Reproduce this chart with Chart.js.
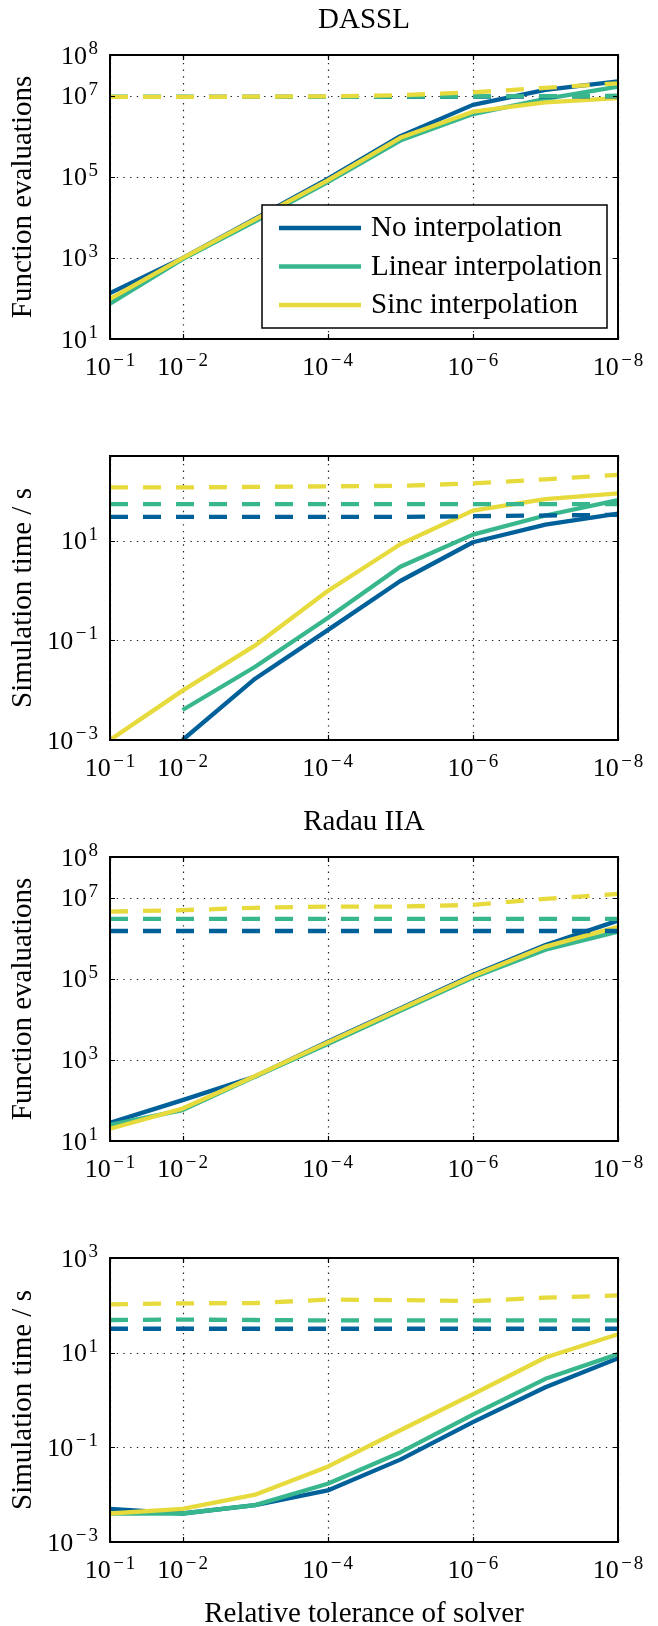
<!DOCTYPE html>
<html>
<head>
<meta charset="utf-8">
<script src="https://cdn.jsdelivr.net/npm/chart.js@4.4.1/dist/chart.umd.min.js"></script>
<style>
  body { margin: 0; background: #fff; }
  canvas { position: absolute; left: 0; }
</style>
</head>
<body>
<canvas id="c0" width="658" height="401" style="top:0"></canvas>
<canvas id="c1" width="658" height="401" style="top:401px"></canvas>
<canvas id="c2" width="658" height="401" style="top:802px"></canvas>
<canvas id="c3" width="658" height="423" style="top:1203px"></canvas>
<script>
// relative tolerance of solver (x axis, shown reversed)
const tolerances = [1e-1, 1e-2, 1e-3, 1e-4, 1e-5, 1e-6, 1e-7, 1e-8];
const xTickExps = [-1, -2, -4, -6, -8];

const seriesNames = ['No interpolation', 'Linear interpolation', 'Sinc interpolation'];
const seriesColors = ['#00609a', '#38b78e', '#e6da3c'];

// DASSL - function evaluations
const dasslEvalsNone   = [135, 980, 9300, 89000, 1.0e6, 5.9e6, 1.38e7, 2.24e7];
const dasslEvalsLinear = [74, 930, 7900, 74000, 7.8e5, 3.5e6, 8.3e6, 1.66e7];
const dasslEvalsSinc   = [98, 980, 8900, 81000, 9.1e5, 4.0e6, 6.8e6, 8.7e6];
const dasslEvalsNoneDash   = [9.3e6, 9.3e6, 9.3e6, 9.3e6, 9.3e6, 9.4e6, 9.5e6, 9.6e6];
const dasslEvalsLinearDash = [9.3e6, 9.3e6, 9.3e6, 9.3e6, 9.4e6, 9.5e6, 9.7e6, 9.9e6];
const dasslEvalsSincDash   = [9.3e6, 9.3e6, 9.4e6, 9.6e6, 1.02e7, 1.2e7, 1.55e7, 2.0e7];

// DASSL - simulation time / s
const dasslTimeNone   = [null, 0.001, 0.017, 0.16, 1.55, 9.3, 21, 35];
const dasslTimeLinear = [null, 0.004, 0.0295, 0.28, 3.0, 13.2, 32, 65];
const dasslTimeSinc   = [0.001, 0.0098, 0.079, 0.98, 8.5, 40, 68, 89];
const dasslTimeNoneDash   = [30, 30, 30, 30, 30, 31, 32, 33];
const dasslTimeLinearDash = [54, 54, 54, 54, 54, 54, 54, 54];
const dasslTimeSincDash   = [117, 117, 120, 123, 126, 141, 170, 209];

// Radau IIA - function evaluations
const radauEvalsNone   = [28, 102, 390, 2800, 18600, 1.23e5, 6.8e5, 2.7e6];
const radauEvalsLinear = [25, 58, 390, 2450, 16200, 1.07e5, 5.2e5, 1.45e6];
const radauEvalsSinc   = [20, 63, 400, 2700, 17800, 1.17e5, 6.2e5, 1.9e6];
const radauEvalsNoneDash   = [1.5e6, 1.5e6, 1.5e6, 1.5e6, 1.5e6, 1.5e6, 1.5e6, 1.5e6];
const radauEvalsLinearDash = [3.0e6, 3.0e6, 3.0e6, 3.0e6, 3.0e6, 3.0e6, 3.0e6, 3.0e6];
const radauEvalsSincDash   = [4.5e6, 4.9e6, 5.6e6, 6.0e6, 6.0e6, 6.6e6, 9.3e6, 1.23e7];

// Radau IIA - simulation time / s
const radauTimeNone   = [0.005, 0.004, 0.006, 0.0123, 0.055, 0.34, 1.86, 7.6];
const radauTimeLinear = [0.004, 0.004, 0.006, 0.017, 0.078, 0.49, 2.8, 9.3];
const radauTimeSinc   = [0.004, 0.005, 0.010, 0.039, 0.23, 1.32, 7.9, 24.5];
const radauTimeNoneDash   = [32, 32, 32, 32, 32, 32, 32, 32];
const radauTimeLinearDash = [49, 50, 49, 48, 48, 48, 48, 48];
const radauTimeSincDash   = [105, 110, 112, 132, 129, 123, 145, 162];

const panels = [
    { id: 'c0', title: 'DASSL', ylabel: 'Function evaluations', yMin: 1e1, yMax: 1e8, yTickExps: [1, 3, 5, 7, 8],
      solid: [dasslEvalsNone, dasslEvalsLinear, dasslEvalsSinc],
      dashed: [dasslEvalsNoneDash, dasslEvalsLinearDash, dasslEvalsSincDash], legend: true },
    { id: 'c1', ylabel: 'Simulation time / s', yMin: 1e-3, yMax: 500, yTickExps: [-3, -1, 1],
      solid: [dasslTimeNone, dasslTimeLinear, dasslTimeSinc],
      dashed: [dasslTimeNoneDash, dasslTimeLinearDash, dasslTimeSincDash] },
    { id: 'c2', title: 'Radau IIA', ylabel: 'Function evaluations', yMin: 1e1, yMax: 1e8, yTickExps: [1, 3, 5, 7, 8],
      solid: [radauEvalsNone, radauEvalsLinear, radauEvalsSinc],
      dashed: [radauEvalsNoneDash, radauEvalsLinearDash, radauEvalsSincDash] },
    { id: 'c3', ylabel: 'Simulation time / s', yMin: 1e-3, yMax: 1e3, yTickExps: [-3, -1, 1, 3],
      solid: [radauTimeNone, radauTimeLinear, radauTimeSinc],
      dashed: [radauTimeNoneDash, radauTimeLinearDash, radauTimeSincDash], xlabel: 'Relative tolerance of solver' },
];

const FONT = '"Liberation Serif", "Times New Roman", serif';
const WORD_PX = 29, BASE_PX = 26, SUP_PX = 19;

// "10" with a raised exponent; minus gets a bit of extra room like TeX's math minus
function drawPow(ctx, exp, x, baseY, align) {
    const neg = exp < 0, digit = String(Math.abs(exp));
    ctx.font = `${BASE_PX}px ${FONT}`;
    const wb = ctx.measureText('10').width;
    ctx.font = `${SUP_PX}px ${FONT}`;
    const wm = neg ? ctx.measureText('\u2212').width + 3 : 0;
    const wd = ctx.measureText(digit).width;
    const w = wb + 1.5 + wm + wd;
    const x0 = align === 'center' ? x - w / 2 : x - w;
    ctx.textAlign = 'left';
    ctx.textBaseline = 'alphabetic';
    ctx.font = `${BASE_PX}px ${FONT}`;
    ctx.fillText('10', x0, baseY);
    ctx.font = `${SUP_PX}px ${FONT}`;
    if (neg) ctx.fillText('\u2212', x0 + wb + 2.5, baseY - 9.5);
    ctx.fillText(digit, x0 + wb + 1.5 + wm, baseY - 9.5);
}

function makeDecor(p) {
    return {
        id: 'decor_' + p.id,
        beforeDatasetsDraw(chart) {
            const { ctx, chartArea: a, scales: { x, y } } = chart;
            ctx.save();
            ctx.strokeStyle = '#222';
            ctx.lineWidth = 1.2;
            ctx.setLineDash([1.4, 5.3]);
            xTickExps.forEach(e => {
                const px = Math.round(x.getPixelForValue(Math.pow(10, e))) + 0.5;
                ctx.beginPath(); ctx.moveTo(px, a.bottom); ctx.lineTo(px, a.top); ctx.stroke();
            });
            p.yTickExps.forEach(e => {
                const py = Math.round(y.getPixelForValue(Math.pow(10, e))) + 0.5;
                ctx.beginPath(); ctx.moveTo(a.left, py); ctx.lineTo(a.right, py); ctx.stroke();
            });
            ctx.restore();
        },
        afterDatasetsDraw(chart) {
            const { ctx, chartArea: a, scales: { x, y } } = chart;
            ctx.save();
            ctx.fillStyle = '#000';
            ctx.strokeStyle = '#000';
            // tick marks
            ctx.lineWidth = 1.2;
            xTickExps.forEach(e => {
                const px = Math.round(x.getPixelForValue(Math.pow(10, e))) + 0.5;
                ctx.beginPath();
                ctx.moveTo(px, a.bottom); ctx.lineTo(px, a.bottom - 5);
                ctx.moveTo(px, a.top); ctx.lineTo(px, a.top + 5);
                ctx.stroke();
            });
            p.yTickExps.forEach(e => {
                const py = Math.round(y.getPixelForValue(Math.pow(10, e))) + 0.5;
                ctx.beginPath();
                ctx.moveTo(a.left, py); ctx.lineTo(a.left + 5, py);
                ctx.moveTo(a.right, py); ctx.lineTo(a.right - 5, py);
                ctx.stroke();
            });
            // box
            ctx.lineWidth = 2;
            ctx.strokeRect(a.left, a.top, a.right - a.left, a.bottom - a.top);

            // tick labels
            xTickExps.forEach(e => drawPow(ctx, e, x.getPixelForValue(Math.pow(10, e)), a.bottom + 36, 'center'));
            p.yTickExps.forEach(e => drawPow(ctx, e, a.left - 12, y.getPixelForValue(Math.pow(10, e)) + 8.5, 'right'));

            // titles and axis labels
            ctx.font = `${WORD_PX}px ${FONT}`;
            ctx.textBaseline = 'alphabetic';
            ctx.textAlign = 'center';
            const cx = (a.left + a.right) / 2;
            if (p.title) ctx.fillText(p.title, cx, a.top - 27);
            if (p.xlabel) ctx.fillText(p.xlabel, cx, a.bottom + 80);
            ctx.save();
            ctx.translate(31, (a.top + a.bottom) / 2);
            ctx.rotate(-Math.PI / 2);
            ctx.fillText(p.ylabel, 0, 0);
            ctx.restore();

            // legend
            if (p.legend) {
                const lx = 262, ly = 205, lw = 345, lh = 123;
                ctx.fillStyle = '#fff';
                ctx.fillRect(lx, ly, lw, lh);
                ctx.lineWidth = 1.5;
                ctx.strokeStyle = '#000';
                ctx.strokeRect(lx, ly, lw, lh);
                seriesNames.forEach((name, i) => {
                    const ry = 228 + i * 38.5;
                    ctx.strokeStyle = seriesColors[i];
                    ctx.lineWidth = 4.5;
                    ctx.beginPath(); ctx.moveTo(279, ry); ctx.lineTo(361, ry); ctx.stroke();
                    ctx.fillStyle = '#000';
                    ctx.textAlign = 'left';
                    ctx.fillText(name, 371, ry + 8);
                });
            }
            ctx.restore();
        }
    };
}

panels.forEach(p => {
    const canvas = document.getElementById(p.id);
    const datasets = [];
    p.solid.forEach((vals, i) => datasets.push({
        label: seriesNames[i],
        data: tolerances.map((t, k) => ({ x: t, y: vals[k] })),
        borderColor: seriesColors[i], borderWidth: 4.3, order: 6 - i,
    }));
    p.dashed.forEach((vals, i) => datasets.push({
        label: seriesNames[i] + ' (dashed)',
        data: tolerances.map((t, k) => ({ x: t, y: vals[k] })),
        borderColor: seriesColors[i], borderWidth: 4.3, borderDash: [18, 15], order: 3 - i,
    }));
    new Chart(canvas, {
        type: 'line',
        data: { datasets },
        options: {
            responsive: false,
            animation: false,
            clip: 1,
            layout: { padding: { left: 110, right: 40, top: 55, bottom: canvas.height - 339 } },
            elements: { point: { radius: 0 }, line: { tension: 0, borderCapStyle: 'butt', borderJoinStyle: 'round' } },
            plugins: { legend: { display: false }, tooltip: { enabled: false } },
            scales: {
                x: { type: 'logarithmic', reverse: true, min: 1e-8, max: 1e-1, display: false },
                y: { type: 'logarithmic', min: p.yMin, max: p.yMax, display: false },
            },
        },
        plugins: [makeDecor(p)],
    });
});
</script>
</body>
</html>
